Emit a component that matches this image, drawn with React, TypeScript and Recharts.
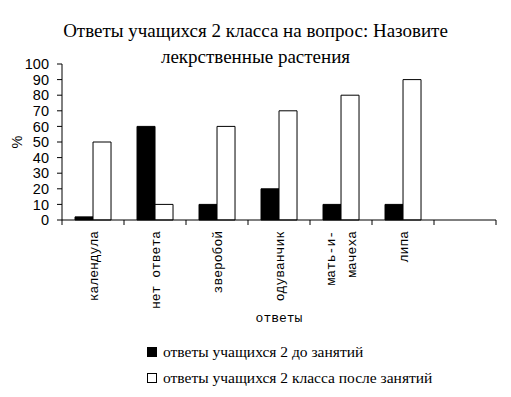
import { BarChart, Bar, XAxis, YAxis } from 'recharts';

const categories = ['календула', 'нет ответа', 'зверобой', 'одуванчик', 'мать-и-мачеха', 'липа', ''];
const beforeValues = [2, 60, 10, 20, 10, 10, null];
const afterValues = [50, 10, 60, 70, 80, 90, null];
const yTicks = [0, 10, 20, 30, 40, 50, 60, 70, 80, 90, 100];
const seriesNames = ['ответы учащихся 2 до занятий', 'ответы учащихся 2 класса после занятий'];
const titleLines = ['Ответы учащихся 2 класса на вопрос: Назовите', 'лекрственные растения'];
// labels that Excel wrapped onto two columns
const wrappedLabels: Record<string, string[]> = { 'мать-и-мачеха': ['мать-и-', 'мачеха'] };

const data = categories.map((name, i) => ({ name, before: beforeValues[i], after: afterValues[i] }));

const MONO = '"Liberation Mono", "Courier New", monospace';
const SANS = '"Liberation Sans", Arial, sans-serif';
const SERIF = '"Liberation Serif", "Times New Roman", serif';

function CategoryTick(props: any) {
  const { x, y, payload, index } = props;
  const half = payload.offset ?? 0;
  const lines = wrappedLabels[payload.value] ?? [payload.value];
  const step = 21;
  const startX = x + 1 - ((lines.length - 1) * step) / 2;
  return (
    <g>
      <line x1={x - half} x2={x - half} y1={y} y2={y + 5} stroke="#000" />
      {index === categories.length - 1 && (
        <line x1={x + half} x2={x + half} y1={y} y2={y + 5} stroke="#000" />
      )}
      {lines.map((t, i) => (
        <text
          key={i}
          transform={`translate(${startX + i * step}, ${y + 11}) rotate(-90)`}
          textAnchor="end"
          dominantBaseline="central"
          fontFamily={MONO}
          fontSize={13}
          fill="#000"
        >
          {t}
        </text>
      ))}
    </g>
  );
}

export default function App() {
  return (
    <div style={{ position: 'absolute', left: 0, top: 0, width: 511, height: 397, background: '#fff' }}>
      <div
        style={{
          position: 'absolute', left: 0, top: 18, width: 511, textAlign: 'center',
          fontFamily: SERIF, fontSize: 19, lineHeight: '26px',
        }}
      >
        {titleLines.map((l) => <div key={l}>{l}</div>)}
      </div>

      <BarChart
        width={511}
        height={397}
        data={data}
        margin={{ top: 64, right: 15, bottom: 0, left: 0 }}
        barCategoryGap="21%"
        barGap={0}
      >
        <YAxis
          width={62}
          domain={[0, 100]}
          ticks={yTicks}
          interval={0}
          axisLine={{ stroke: '#000' }}
          tickLine={{ stroke: '#000' }}
          tickSize={5}
          tickMargin={8}
          tick={{ fill: '#000', fontFamily: SANS, fontSize: 14.5 }}
        />
        <XAxis
          dataKey="name"
          height={177}
          interval={0}
          axisLine={{ stroke: '#000' }}
          tickLine={false}
          tickSize={0}
          tickMargin={0}
          tick={<CategoryTick />}
        />
        <Bar dataKey="before" name={seriesNames[0]} fill="#000" stroke="#000" isAnimationActive={false} />
        <Bar dataKey="after" name={seriesNames[1]} fill="#fff" stroke="#000" isAnimationActive={false} />
      </BarChart>

      <div
        style={{
          position: 'absolute', left: 17, top: 142, transform: 'translate(-50%, -50%) rotate(-90deg)',
          fontFamily: SANS, fontSize: 14.5, transformOrigin: 'center',
        }}
      >
        %
      </div>
      <div
        style={{
          position: 'absolute', left: 62, width: 434, top: 311, textAlign: 'center',
          fontFamily: MONO, fontSize: 13,
        }}
      >
        ответы
      </div>

      <div style={{ position: 'absolute', left: 147, top: 339, fontFamily: SERIF, fontSize: 15.5 }}>
        {seriesNames.map((n, i) => (
          <div key={n} style={{ display: 'flex', alignItems: 'center', height: 26 }}>
            <span
              style={{
                display: 'inline-block', width: 8, height: 8, border: '1px solid #000',
                background: i === 0 ? '#000' : '#fff', marginRight: 6,
              }}
            />
            <span>{n}</span>
          </div>
        ))}
      </div>
    </div>
  );
}
